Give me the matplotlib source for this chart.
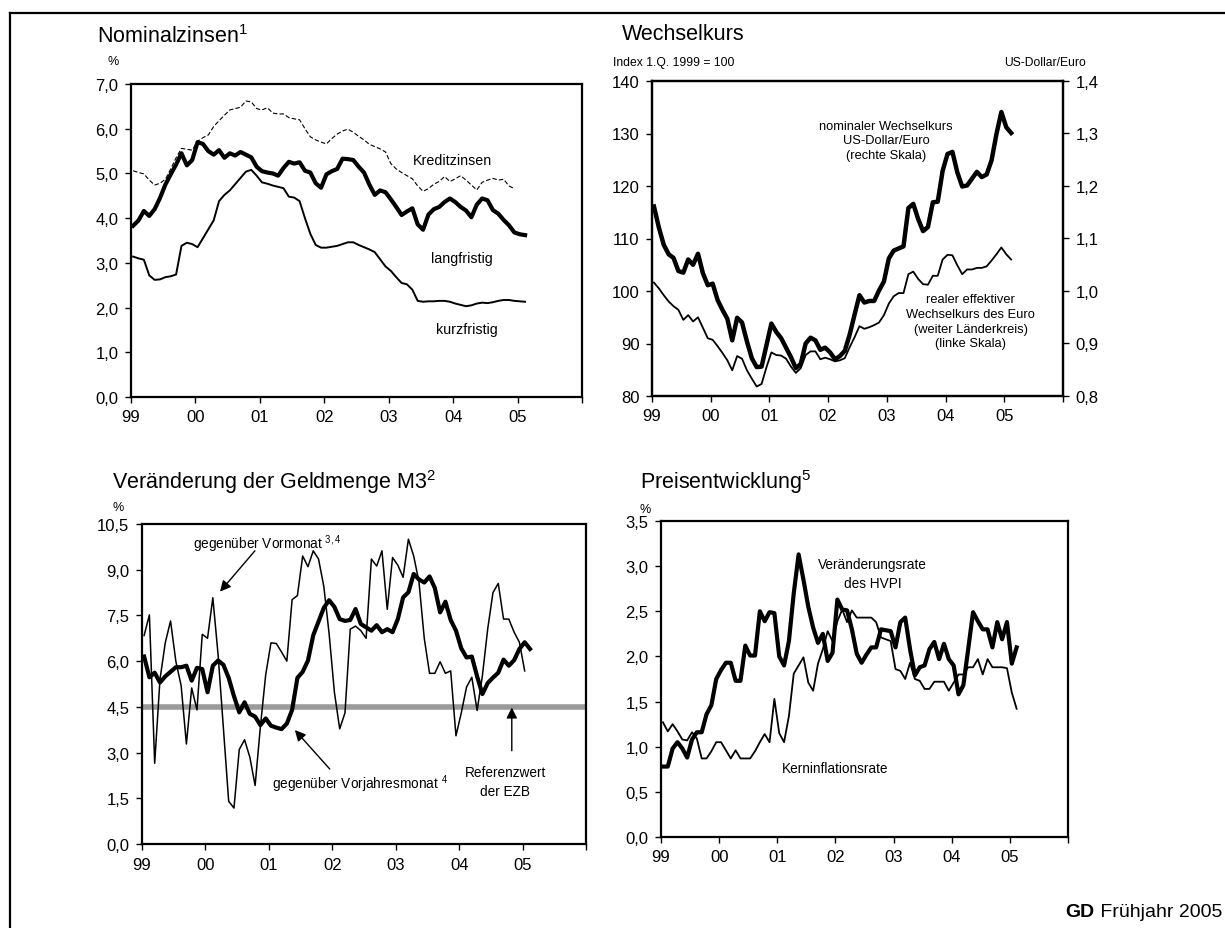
import numpy as np
import matplotlib
matplotlib.use("Agg")
import matplotlib.pyplot as plt
from matplotlib.lines import Line2D
from matplotlib.ticker import FuncFormatter, MultipleLocator

plt.rcParams['font.family'] = ['Liberation Sans', 'DejaVu Sans']
plt.rcParams['mathtext.fontset'] = 'custom'
plt.rcParams['mathtext.rm'] = 'Liberation Sans'
plt.rcParams['mathtext.it'] = 'Liberation Sans'

# --- Nominalzinsen (monthly from Jan 1999, %)
langfristig = [3.83, 3.95, 4.16, 4.05, 4.20, 4.45, 4.75, 4.98, 5.20, 5.45, 5.18, 5.30,
               5.70, 5.66, 5.50, 5.42, 5.52, 5.35, 5.45, 5.40, 5.48, 5.42, 5.36, 5.15,
               5.05, 5.02, 5.00, 4.95, 5.12, 5.26, 5.22, 5.25, 5.06, 5.02, 4.78, 4.68,
               4.98, 5.05, 5.10, 5.33, 5.32, 5.30, 5.15, 5.02, 4.75, 4.52, 4.62, 4.58,
               4.42, 4.25, 4.07, 4.15, 4.22, 3.86, 3.74, 4.08, 4.20, 4.25, 4.36, 4.44,
               4.36, 4.25, 4.17, 4.02, 4.30, 4.44, 4.40, 4.18, 4.10, 3.96, 3.84, 3.68,
               3.64, 3.62]
kurzfristig = [3.14, 3.10, 3.07, 2.72, 2.62, 2.63, 2.68, 2.70, 2.74, 3.38, 3.45, 3.42,
               3.35, 3.55, 3.75, 3.95, 4.38, 4.52, 4.62, 4.76, 4.90, 5.04, 5.08, 4.95,
               4.80, 4.77, 4.73, 4.70, 4.67, 4.48, 4.46, 4.38, 4.00, 3.65, 3.40, 3.34,
               3.34, 3.36, 3.38, 3.42, 3.46, 3.46, 3.40, 3.35, 3.30, 3.24, 3.08, 2.92,
               2.82, 2.68, 2.55, 2.52, 2.40, 2.15, 2.13, 2.14, 2.14, 2.15, 2.15, 2.13,
               2.09, 2.06, 2.03, 2.05, 2.09, 2.11, 2.10, 2.12, 2.15, 2.17, 2.17, 2.15,
               2.14, 2.13]
kreditzinsen = [5.06, 5.02, 4.99, 4.85, 4.74, 4.78, 4.87, 5.10, 5.35, 5.56, 5.54, 5.52,
                5.72, 5.80, 5.86, 6.05, 6.18, 6.30, 6.42, 6.45, 6.48, 6.62, 6.60, 6.45,
                6.42, 6.47, 6.35, 6.33, 6.33, 6.25, 6.22, 6.20, 6.00, 5.82, 5.75, 5.70,
                5.66, 5.78, 5.88, 5.95, 5.99, 5.92, 5.83, 5.75, 5.65, 5.60, 5.55, 5.48,
                5.22, 5.10, 5.02, 4.95, 4.88, 4.72, 4.60, 4.66, 4.76, 4.82, 4.93, 4.82,
                4.88, 4.95, 4.85, 4.74, 4.63, 4.80, 4.85, 4.89, 4.85, 4.87, 4.72, 4.66]

# --- Wechselkurs
usd_eur = [1.161, 1.121, 1.088, 1.070, 1.063, 1.038, 1.035, 1.060, 1.050, 1.071, 1.034, 1.011,
           1.014, 0.983, 0.964, 0.947, 0.906, 0.949, 0.940, 0.904, 0.872, 0.855, 0.856, 0.897,
           0.938, 0.922, 0.910, 0.892, 0.874, 0.853, 0.861, 0.900, 0.911, 0.906, 0.888, 0.892,
           0.883, 0.870, 0.876, 0.886, 0.917, 0.955, 0.992, 0.978, 0.981, 0.981, 1.001, 1.018,
           1.062, 1.077, 1.081, 1.085, 1.158, 1.166, 1.137, 1.114, 1.122, 1.169, 1.170, 1.229,
           1.261, 1.265, 1.226, 1.199, 1.201, 1.214, 1.227, 1.217, 1.222, 1.249, 1.299, 1.341,
           1.312, 1.301]
real_eff = [101.6, 100.5, 99.2, 98.0, 97.1, 96.4, 94.5, 95.4, 94.2, 95.0, 93.0, 91.0,
            90.7, 89.5, 88.2, 86.8, 84.9, 87.6, 87.1, 84.9, 83.3, 81.8, 82.3, 85.5,
            88.3, 87.8, 87.7, 87.1, 85.6, 84.4, 85.3, 87.8, 88.5, 88.5, 87.0, 87.3,
            87.0, 86.6, 86.8, 87.2, 89.3, 91.2, 93.3, 92.8, 93.1, 93.5, 94.0, 95.4,
            97.6, 99.0, 99.6, 99.6, 103.2, 103.7, 102.3, 101.3, 101.2, 102.9, 102.9, 106.0,
            106.9, 106.8, 104.9, 103.2, 104.1, 104.1, 104.4, 104.4, 104.7, 105.8, 107.0, 108.3,
            107.0, 106.0]

# --- Geldmenge M3
m3_vorjahr = [6.15, 5.47, 5.62, 5.30, 5.50, 5.65, 5.80, 5.80, 5.85, 5.36, 5.78, 5.74,
              4.98, 5.85, 6.02, 5.88, 5.45, 4.85, 4.32, 4.65, 4.27, 4.18, 3.90, 4.12,
              3.88, 3.82, 3.77, 3.95, 4.40, 5.45, 5.65, 6.02, 6.85, 7.30, 7.75, 8.00,
              7.78, 7.38, 7.32, 7.35, 7.71, 7.22, 7.11, 7.00, 7.18, 6.95, 7.05, 6.95,
              7.38, 8.09, 8.26, 8.86, 8.68, 8.58, 8.78, 8.40, 7.60, 7.95, 7.35, 7.00,
              6.42, 6.12, 6.15, 5.50, 4.92, 5.28, 5.46, 5.62, 6.05, 5.85, 6.03, 6.40,
              6.62, 6.40]
m3_vormonat = [6.84, 7.52, 2.65, 5.40, 6.60, 7.32, 6.00, 5.20, 3.28, 5.12, 4.40, 6.88,
               6.75, 8.08, 6.20, 3.80, 1.40, 1.18, 3.10, 3.42, 2.85, 1.92, 3.85, 5.55,
               6.60, 6.58, 6.30, 6.00, 8.02, 8.15, 9.45, 9.10, 9.62, 9.35, 8.45, 6.90,
               4.98, 3.78, 4.30, 7.05, 7.15, 7.00, 6.75, 9.35, 9.12, 9.62, 7.70, 9.40,
               9.15, 8.75, 10.00, 9.45, 8.60, 6.75, 5.60, 5.60, 5.98, 5.60, 5.68, 3.55,
               4.30, 5.15, 5.47, 4.38, 5.52, 7.05, 8.25, 8.55, 7.38, 7.38, 6.95, 6.62,
               5.68]
referenzwert = 4.5

# --- Preisentwicklung
hvpi = [0.78, 0.78, 0.98, 1.05, 0.98, 0.88, 1.08, 1.16, 1.16, 1.36, 1.46, 1.75,
        1.85, 1.93, 1.93, 1.73, 1.73, 2.12, 2.01, 2.01, 2.50, 2.39, 2.49, 2.48,
        2.00, 1.90, 2.17, 2.70, 3.13, 2.85, 2.55, 2.32, 2.15, 2.25, 1.95, 2.04,
        2.63, 2.52, 2.51, 2.30, 2.03, 1.93, 2.02, 2.10, 2.10, 2.30, 2.29, 2.28,
        2.10, 2.38, 2.43, 2.08, 1.79, 1.88, 1.90, 2.08, 2.16, 1.97, 2.14, 1.97,
        1.90, 1.58, 1.68, 2.08, 2.49, 2.39, 2.30, 2.30, 2.10, 2.38, 2.19, 2.38,
        1.92, 2.10]
kerninflation = [1.27, 1.17, 1.25, 1.17, 1.08, 1.07, 1.16, 1.09, 0.87, 0.87, 0.95, 1.05,
                 1.05, 0.96, 0.87, 0.96, 0.87, 0.87, 0.87, 0.95, 1.05, 1.14, 1.05, 1.53,
                 1.15, 1.05, 1.34, 1.81, 1.90, 1.99, 1.71, 1.62, 1.92, 2.08, 2.28, 2.17,
                 2.39, 2.52, 2.38, 2.51, 2.43, 2.43, 2.43, 2.43, 2.38, 2.21, 2.19, 2.17,
                 1.86, 1.84, 1.75, 1.93, 1.75, 1.73, 1.64, 1.64, 1.72, 1.72, 1.72, 1.62,
                 1.71, 1.80, 1.80, 1.88, 1.88, 1.97, 1.80, 1.97, 1.88, 1.88, 1.88, 1.87,
                 1.60, 1.42]

year_ticks = [1999, 2000, 2001, 2002, 2003, 2004, 2005, 2006]
year_labels = ['99', '00', '01', '02', '03', '04', '05', '']

TICK_FS = 12
TITLE_FS = 15.5
NOTE_FS = 9.8


def months(series):
    return 1999 + (np.arange(len(series)) + 0.4) / 12


def comma(digits):
    return FuncFormatter(lambda v, p: f"{v:.{digits}f}".replace('.', ','))


def style_axes(ax):
    ax.set_xlim(1999, 2006)
    ax.set_xticks(year_ticks)
    ax.set_xticklabels(year_labels)
    for s in ax.spines.values():
        s.set_linewidth(1.6)
    ax.tick_params(direction='out', length=4, width=1, labelsize=TICK_FS, pad=5)


W, H = 1225, 929
fig = plt.figure(figsize=(W / 100, H / 100), dpi=100)


def box(x0, y0, x1, y1):
    return [x0 / W, 1 - y1 / H, (x1 - x0) / W, (y1 - y0) / H]


THICK, THIN = 2.6, 1.1

# Panel 1
ax1 = fig.add_axes(box(131, 85, 582, 398))
ax1.plot(months(kreditzinsen), kreditzinsen, color='k', lw=0.8, ls=(0, (4, 2)))
ax1.plot(months(kurzfristig), kurzfristig, color='k', lw=THIN + 0.3)
ax1.plot(months(langfristig), langfristig, color='k', lw=THICK + 0.4)
ax1.set_ylim(0, 7)
ax1.yaxis.set_major_locator(MultipleLocator(1))
ax1.yaxis.set_major_formatter(comma(1))
style_axes(ax1)
ax1.text(2003.99, 5.30, 'Kreditzinsen', ha='center', va='center', fontsize=10.3)
ax1.text(2004.13, 3.10, 'langfristig', ha='center', va='center', fontsize=10.3)
ax1.text(2004.21, 1.51, 'kurzfristig', ha='center', va='center', fontsize=10.3)

# Panel 2
ax2 = fig.add_axes(box(652, 82, 1063, 397))
ax2.plot(months(real_eff), real_eff, color='k', lw=THIN + 0.2)
ax2.set_ylim(80, 140)
ax2.yaxis.set_major_locator(MultipleLocator(10))
style_axes(ax2)
ax2r = ax2.twinx()
ax2r.plot(months(usd_eur), usd_eur, color='k', lw=THICK + 0.6)
ax2r.set_ylim(0.8, 1.4)
ax2r.yaxis.set_major_locator(MultipleLocator(0.1))
ax2r.yaxis.set_major_formatter(comma(1))
ax2r.tick_params(direction='out', length=4, width=1, labelsize=TICK_FS, pad=5)
for s in ax2r.spines.values():
    s.set_linewidth(1.6)
ax2.text(2002.99, 128.7, 'nominaler Wechselkurs\nUS-Dollar/Euro\n(rechte Skala)',
         ha='center', va='center', fontsize=9.3, linespacing=1.3)
ax2.text(2004.43, 94.2, 'realer effektiver\nWechselkurs des Euro\n(weiter Länderkreis)\n(linke Skala)',
         ha='center', va='center', fontsize=9.3, linespacing=1.3)

# Panel 3
ax3 = fig.add_axes(box(142, 525, 586, 845))
ax3.axhline(referenzwert, color='#9a9a9a', lw=4)
ax3.plot(months(m3_vormonat), m3_vormonat, color='k', lw=THIN)
ax3.plot(months(m3_vorjahr), m3_vorjahr, color='k', lw=THICK + 0.4)
ax3.set_ylim(0, 10.5)
ax3.yaxis.set_major_locator(MultipleLocator(1.5))
ax3.yaxis.set_major_formatter(comma(1))
style_axes(ax3)
arr = dict(arrowstyle='-|>', color='k', lw=1, mutation_scale=16, shrinkA=0, shrinkB=0)
ax3.text(2000.98, 9.86, 'gegenüber Vormonat $^{3,4}$', ha='center', va='center', fontsize=NOTE_FS)
ax3.annotate('', xy=(2000.23, 8.28), xytext=(2000.78, 9.62), arrowprops=arr)
ax3.text(2002.43, 1.99, 'gegenüber Vorjahresmonat $^{4}$', ha='center', va='center',
         fontsize=NOTE_FS)
ax3.annotate('', xy=(2001.41, 3.74), xytext=(2001.96, 2.46), arrowprops=arr)
ax3.text(2004.73, 2.05, 'Referenzwert\nder EZB', ha='center', va='center', fontsize=NOTE_FS,
         linespacing=1.45)
ax3.annotate('', xy=(2004.83, 4.48), xytext=(2004.83, 3.06), arrowprops=arr)

# Panel 4
ax4 = fig.add_axes(box(661, 522, 1068, 838))
ax4.plot(months(kerninflation), kerninflation, color='k', lw=THIN + 0.2)
ax4.plot(months(hvpi), hvpi, color='k', lw=THICK + 0.4)
ax4.set_ylim(0, 3.5)
ax4.yaxis.set_major_locator(MultipleLocator(0.5))
ax4.yaxis.set_major_formatter(comma(1))
style_axes(ax4)
ax4.text(2002.64, 2.92, 'Veränderungsrate\ndes HVPI', ha='center', va='center', fontsize=NOTE_FS,
         linespacing=1.45)
ax4.text(2001.99, 0.76, 'Kerninflationsrate', ha='center', va='center', fontsize=NOTE_FS)

# Titles and unit labels
fig.text(97 / W, 1 - 37 / H, 'Nominalzinsen$^1$', fontsize=TITLE_FS, va='center')
fig.text(622 / W, 1 - 35 / H, 'Wechselkurs', fontsize=TITLE_FS, va='center')
fig.text(112 / W, 1 - 482 / H, 'Veränderung der Geldmenge M3$^2$', fontsize=TITLE_FS, va='center')
fig.text(640 / W, 1 - 482 / H, 'Preisentwicklung$^5$', fontsize=TITLE_FS, va='center')
fig.text(113 / W, 1 - 62 / H, '%', fontsize=9, ha='center', va='center')
fig.text(118 / W, 1 - 508 / H, '%', fontsize=9, ha='center', va='center')
fig.text(645 / W, 1 - 510 / H, '%', fontsize=9, ha='center', va='center')
fig.text(613 / W, 1 - 63 / H, 'Index 1.Q. 1999 = 100', fontsize=8.7, va='center')
fig.text(1086 / W, 1 - 63 / H, 'US-Dollar/Euro', fontsize=8.7, ha='right', va='center')

t = fig.text(1222 / W, 1 - 913 / H, ' Frühjahr 2005', fontsize=14, ha='right', va='center')
fig.canvas.draw()
bb = t.get_window_extent()
fig.text(bb.x0 / W, 1 - 913 / H, 'GD', fontsize=14, fontweight='bold', ha='right', va='center')

# outer frame (top and left edge)
fx, fy = 10 / W, 1 - 14 / H
fig.add_artist(Line2D([fx, 1], [fy, fy], transform=fig.transFigure, color='k', lw=1.6))
fig.add_artist(Line2D([fx, fx], [fy, 0], transform=fig.transFigure, color='k', lw=1.6))

fig.savefig('out.png', dpi=100)
